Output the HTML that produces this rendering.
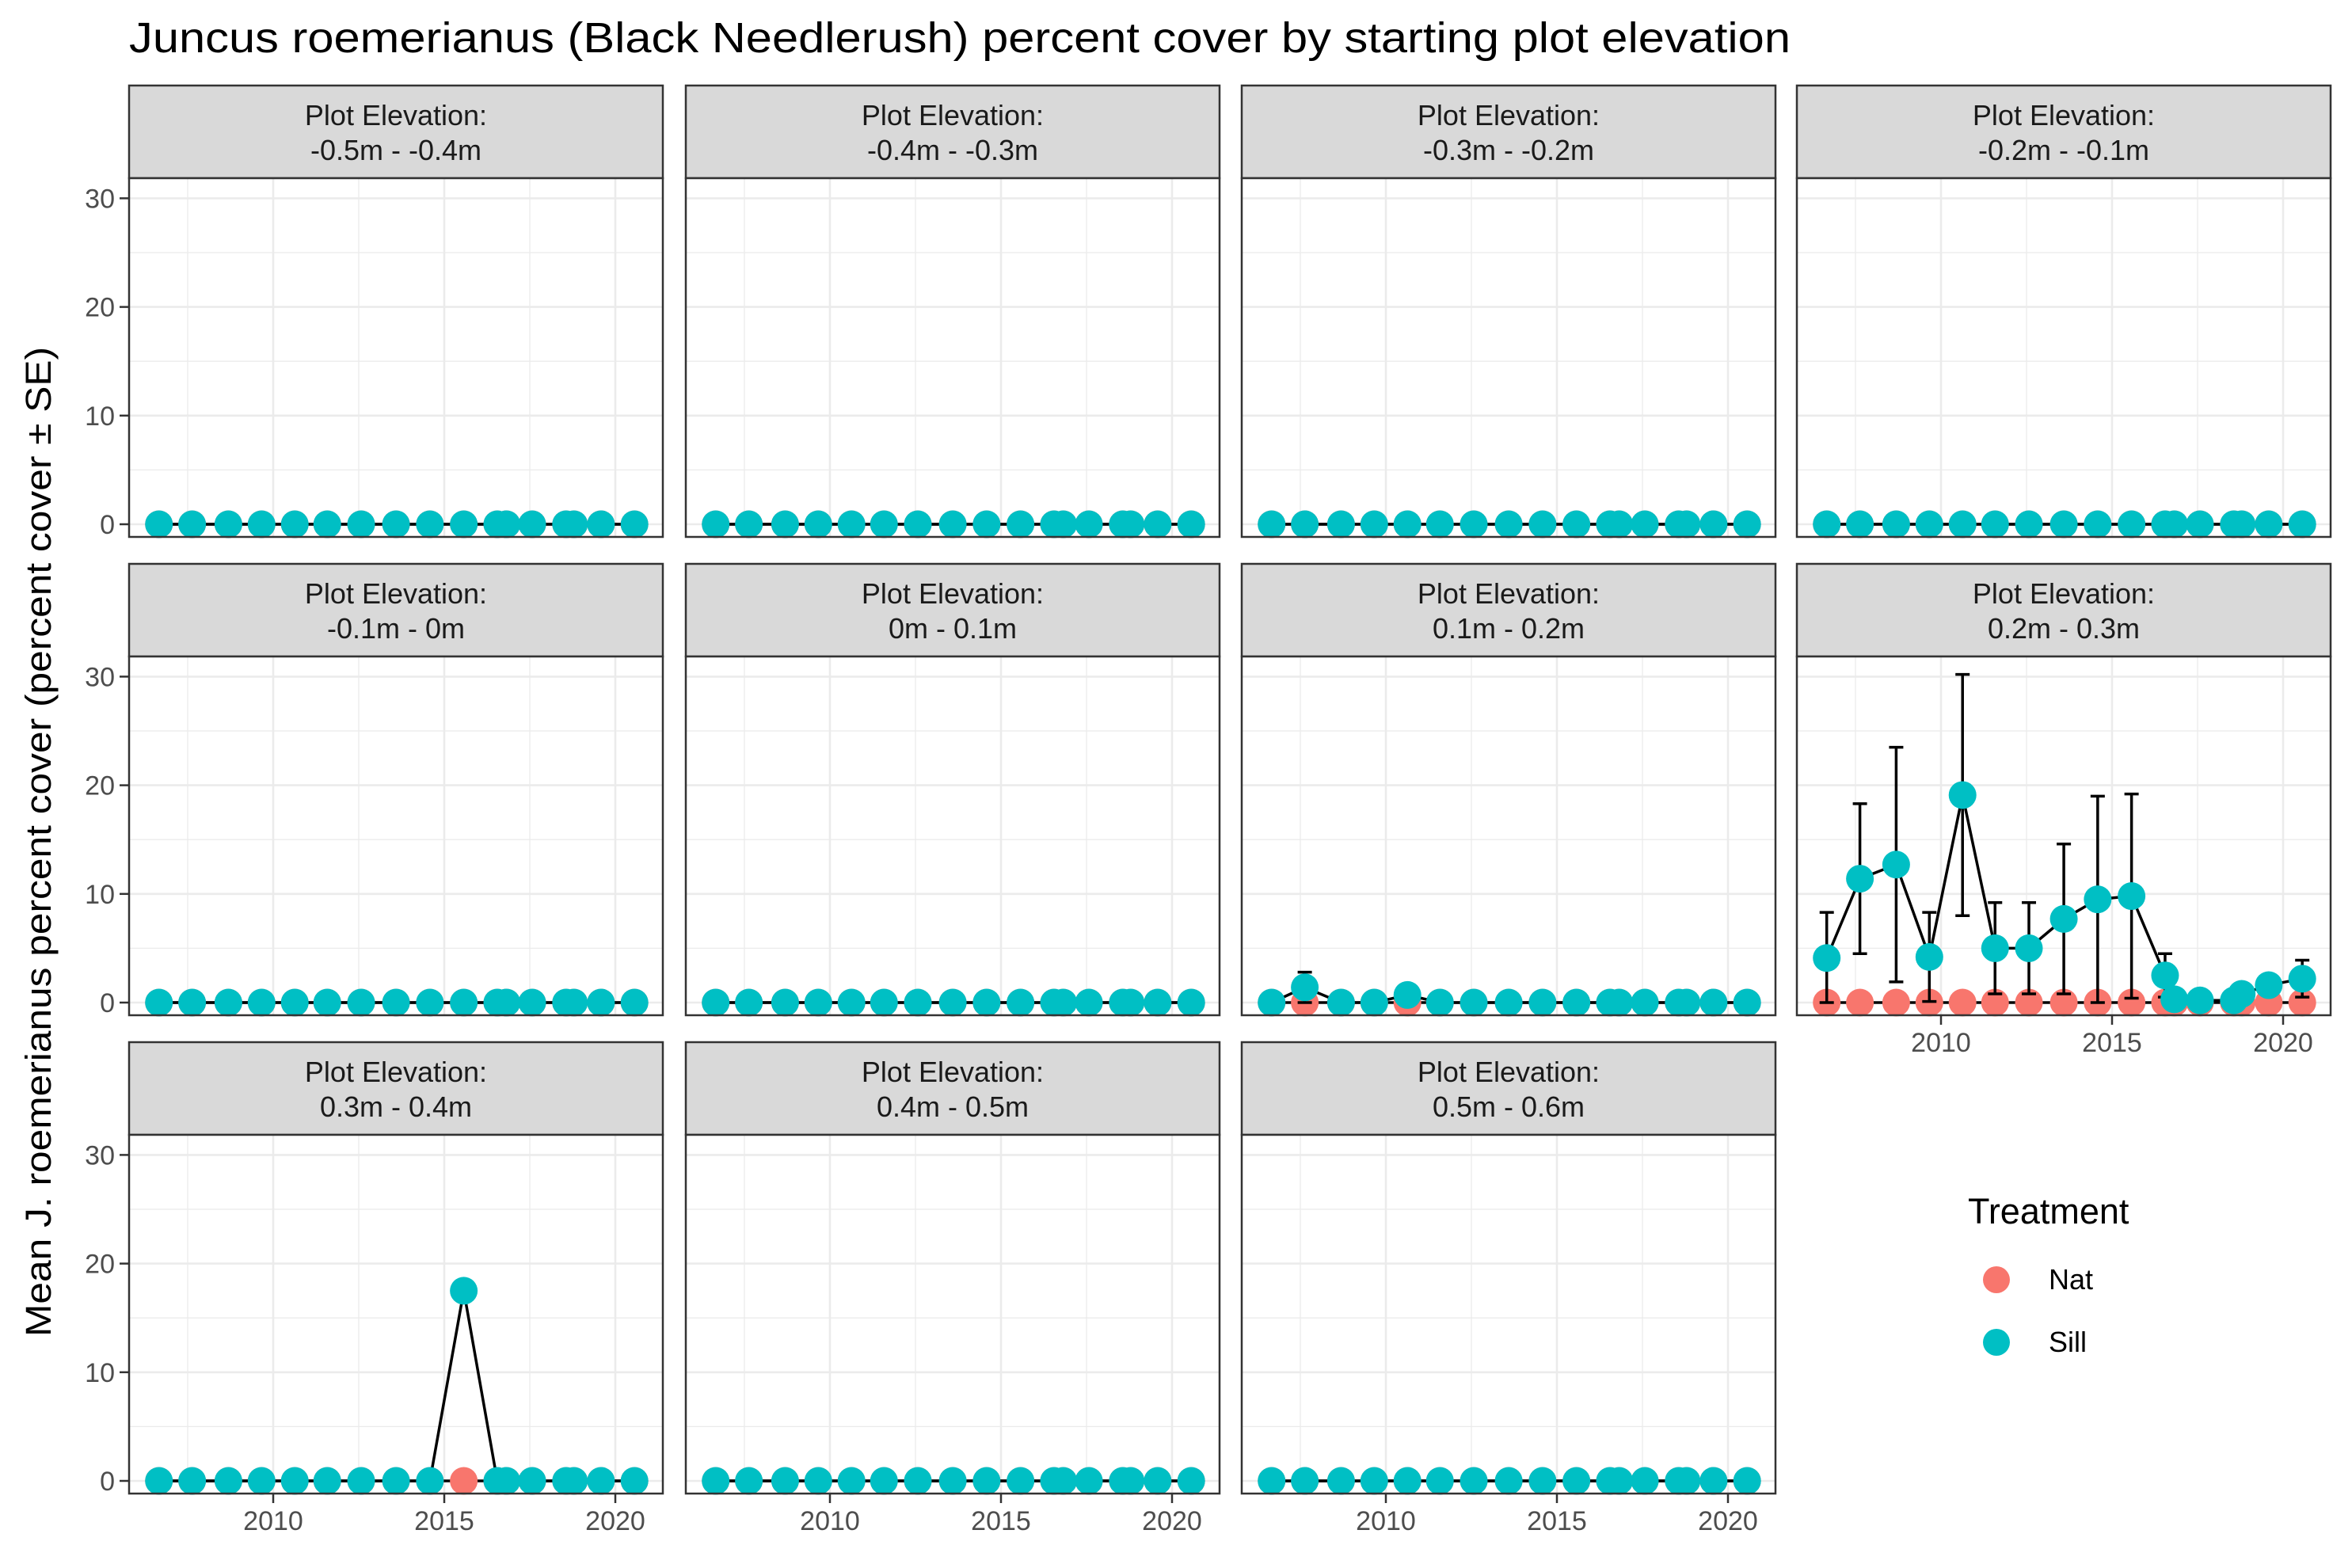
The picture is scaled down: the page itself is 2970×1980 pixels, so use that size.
<!DOCTYPE html>
<html><head><meta charset="utf-8">
<style>
html,body{margin:0;padding:0;background:#fff;}
svg{display:block;font-family:"Liberation Sans",Arial,sans-serif;}
</style></head>
<body>
<svg id="chart" width="2970" height="1980" viewBox="0 0 2970 1980" xmlns="http://www.w3.org/2000/svg">
<rect x="0" y="0" width="2970" height="1980" fill="#fff"/>
<text x="163" y="66" font-size="54" textLength="2098" lengthAdjust="spacingAndGlyphs" fill="#000">Juncus roemerianus (Black Needlerush) percent cover by starting plot elevation</text>
<text transform="translate(64,1063) rotate(-90)" text-anchor="middle" font-size="45" textLength="1250" lengthAdjust="spacingAndGlyphs" fill="#000">Mean J. roemerianus percent cover (percent cover ± SE)</text>
<g id="panels"></g>
<g>
<text x="2485" y="1545" font-size="45" fill="#000">Treatment</text>
<circle cx="2521" cy="1616" r="17" fill="#F8766D"/>
<text x="2587" y="1628" font-size="36" fill="#000">Nat</text>
<circle cx="2521" cy="1695" r="17" fill="#00BFC4"/>
<text x="2587" y="1707" font-size="36" fill="#000">Sill</text>
</g>
</svg>
<script>
const years = [2006.66,2007.63,2008.69,2009.66,2010.63,2011.58,2012.57,2013.59,2014.58,2015.57,2016.55,2016.82,2017.57,2018.56,2018.79,2019.58,2020.56];
const panelLabels = ["-0.5m - -0.4m","-0.4m - -0.3m","-0.3m - -0.2m","-0.2m - -0.1m","-0.1m - 0m","0m - 0.1m","0.1m - 0.2m","0.2m - 0.3m","0.3m - 0.4m","0.4m - 0.5m","0.5m - 0.6m"];
const zeros = [0,0,0,0,0,0,0,0,0,0,0,0,0,0,0,0,0];
const sill_p7 = [0,1.4,0,0,0.7,0,0,0,0,0,0,0,0,0,0,0,0];
const sillSE_p7 = [0,1.4,0,0,0.3,0,0,0,0,0,0,0,0,0,0,0,0];
const sill_p8 = [4.1,11.4,12.7,4.2,19.1,5.0,5.0,7.7,9.5,9.8,2.5,0.3,0.2,0.2,0.8,1.6,2.2];
const sillSE_p8 = [4.2,6.9,10.8,4.1,11.1,4.2,4.2,6.9,9.5,9.4,2.0,0,0,0,0,0.6,1.7];
const sill_p9 = [0,0,0,0,0,0,0,0,0,17.5,0,0,0,0,0,0,0];
const yTicks = [0,10,20,30];
const yMinor = [5,15,25];
const xTicks = [2010,2015,2020];
const xMinor = [2007.5,2012.5,2017.5];

const sillSeries = [zeros,zeros,zeros,zeros,zeros,zeros,sill_p7,sill_p8,sill_p9,zeros,zeros];
const sillSESeries = [zeros,zeros,zeros,zeros,zeros,zeros,sillSE_p7,sillSE_p8,zeros,zeros,zeros];
const natSeries = [zeros,zeros,zeros,zeros,zeros,zeros,zeros,zeros,zeros,zeros,zeros];

const NS = "http://www.w3.org/2000/svg";
const root = document.getElementById('panels');
const colL = [163,866,1568,2269], PW = 674;
const rowT = [108,712,1316], SH = 117, PH = 453;
function mk(tag, attrs, parent){const e=document.createElementNS(NS,tag);for(const k in attrs)e.setAttribute(k,attrs[k]);parent.appendChild(e);return e;}

panelLabels.forEach((lab,i)=>{
  const c=i%4, r=Math.floor(i/4);
  const L=colL[c], T=rowT[r]+SH, B=T+PH, R=L+PW;
  const xs = y => L + 182 + (y-2010)*43.2;
  const ys = v => B - 16 - v*13.72;
  const g = mk('g',{},root);
  
  
  const st = mk('rect',{x:L,y:rowT[r],width:PW,height:SH,fill:'#d9d9d9',stroke:'#333',"stroke-width":2.5},g);
  
  
  const t1 = mk('text',{x:L+PW/2,y:rowT[r]+50,"text-anchor":"middle","font-size":36,fill:'#1a1a1a'},g);
  t1.textContent='Plot Elevation:';
  
  
  const t2 = mk('text',{x:L+PW/2,y:rowT[r]+94,"text-anchor":"middle","font-size":36,fill:'#1a1a1a'},g);
  t2.textContent=lab;
  
  
  mk('rect',{x:L,y:T,width:PW,height:PH,fill:'#fff'},g);
  yMinor.forEach(v=>mk('line',{x1:L,x2:R,y1:ys(v),y2:ys(v),stroke:'#ebebeb',"stroke-width":1.3},g));
  xMinor.forEach(v=>mk('line',{x1:xs(v),x2:xs(v),y1:T,y2:B,stroke:'#ebebeb',"stroke-width":1.3},g));
  yTicks.forEach(v=>mk('line',{x1:L,x2:R,y1:ys(v),y2:ys(v),stroke:'#ebebeb',"stroke-width":2.6},g));
  xTicks.forEach(v=>mk('line',{x1:xs(v),x2:xs(v),y1:T,y2:B,stroke:'#ebebeb',"stroke-width":2.6},g));
  const nat=natSeries[i], sill=sillSeries[i], se=sillSESeries[i];
  const nl = mk('polyline',{points:years.map((y,k)=>xs(y)+','+ys(nat[k])).join(' '),fill:'none',stroke:'#000',"stroke-width":3.5},g);
  
  
  nat.forEach((v,k)=>{const p=mk('circle',{cx:xs(years[k]),cy:ys(v),r:17.5,fill:'#F8766D'},g);
    
    });
  se.forEach((s,k)=>{ if(s<=0) return; const x=xs(years[k]); const hi=sill[k]+s, lo=Math.max(0,sill[k]-s);
    const eb=mk('path',{d:`M${x-9},${ys(hi)}H${x+9}M${x},${ys(hi)}V${ys(lo)}M${x-9},${ys(lo)}H${x+9}`,stroke:'#000',"stroke-width":3.5,fill:'none'},g);
    
    });
  const sl = mk('polyline',{points:years.map((y,k)=>xs(y)+','+ys(sill[k])).join(' '),fill:'none',stroke:'#000',"stroke-width":3.5},g);
  
  
  sill.forEach((v,k)=>{
    const p=mk('circle',{cx:xs(years[k]),cy:ys(v),r:17.5,fill:'#00BFC4'},g);
    
    });
  mk('rect',{x:L,y:T,width:PW,height:PH,fill:'none',stroke:'#333',"stroke-width":2.5},g);
  if(c===0){
    yTicks.forEach(v=>{mk('line',{x1:L-12,x2:L,y1:ys(v),y2:ys(v),stroke:'#333',"stroke-width":2.5},g);
      const tl=mk('text',{x:L-18,y:ys(v)+12,"text-anchor":"end","font-size":34,fill:'#4d4d4d'},g);
      tl.textContent=v;
      
      });
  }
  if(r===2 || i===7){
    xTicks.forEach(v=>{mk('line',{x1:xs(v),x2:xs(v),y1:B,y2:B+12,stroke:'#333',"stroke-width":2.5},g);
      const tl=mk('text',{x:xs(v),y:B+46,"text-anchor":"middle","font-size":34,fill:'#4d4d4d'},g);
      tl.textContent=v;
      
      });
  }
});
</script>
</body></html>
